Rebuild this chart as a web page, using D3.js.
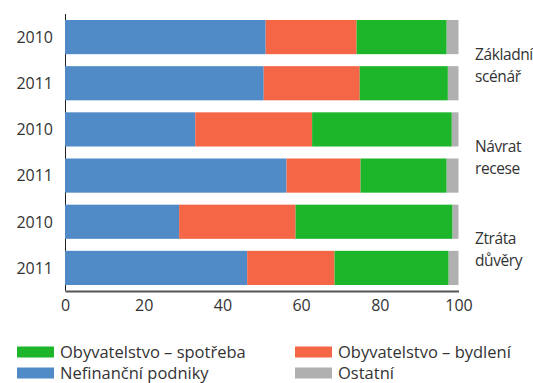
<!DOCTYPE html>
<html>
<head>
<meta charset="utf-8">
<script src="https://cdn.jsdelivr.net/npm/d3@7"></script>
<style>
  html, body { margin: 0; padding: 0; background: #fff; }
  svg { display: block; }
  text { font-family: "Open Sans", "Noto Sans", sans-serif; fill: #333; }
</style>
</head>
<body>
<svg id="chart" width="533" height="383"></svg>
<script>
// Row labels (top to bottom) and the scenario each pair of rows belongs to
const years = ["2010", "2011", "2010", "2011", "2010", "2011"];
const scenarios = [["Základní", "scénář"], ["Návrat", "recese"], ["Ztráta", "důvěry"]];

// Shares (%) per row
const nefinancni = [51.0, 50.5, 33.1, 56.3, 29.0, 46.3];
const bydleni    = [23.1, 24.4, 29.7, 18.8, 29.6, 22.2];
const spotreba   = [22.9, 22.4, 35.5, 21.9, 39.9, 29.0];
const ostatni    = [3.0, 2.7, 1.7, 3.0, 1.5, 2.5];

const xTicks = [0, 20, 40, 60, 80, 100];

const seriesKeys = ["nefinancni", "bydleni", "spotreba", "ostatni"];
const seriesNames = {
  nefinancni: "Nefinanční podniky",
  bydleni: "Obyvatelstvo – bydlení",
  spotreba: "Obyvatelstvo – spotřeba",
  ostatni: "Ostatní"
};
const colors = {
  nefinancni: "#518bc7",
  bydleni: "#f46645",
  spotreba: "#1db529",
  ostatni: "#b0b0b0"
};

const rows = years.map((y, i) => ({
  id: i, year: y,
  nefinancni: nefinancni[i], bydleni: bydleni[i],
  spotreba: spotreba[i], ostatni: ostatni[i]
}));

const svg = d3.select("#chart");
const plotLeft = 65, plotRight = 458.5, plotTop = 14, plotBottom = 291;

const x = d3.scaleLinear().domain([0, 100]).range([plotLeft, plotRight]);
const y = d3.scaleBand().domain(rows.map(d => d.id)).range([plotTop, plotBottom])
  .paddingInner(0.26).paddingOuter(0.13);

// Vertical axis line, visible in the gaps between bars
svg.append("line")
  .attr("x1", plotLeft + 0.5).attr("x2", plotLeft + 0.5)
  .attr("y1", plotTop).attr("y2", plotBottom)
  .attr("stroke", "#222").attr("stroke-width", 1);

const stacked = d3.stack().keys(seriesKeys)(rows);

svg.append("g").selectAll("g")
  .data(stacked).join("g")
  .attr("fill", s => colors[s.key])
  .selectAll("rect")
  .data(s => s).join("rect")
  .attr("x", d => x(d[0]))
  .attr("width", d => x(d[1]) - x(d[0]))
  .attr("y", d => y(d.data.id))
  .attr("height", y.bandwidth());

// Row labels
svg.append("g").selectAll("text")
  .data(rows).join("text")
  .attr("x", 53)
  .attr("y", d => y(d.id) + y.bandwidth() / 2)
  .attr("dy", "0.36em")
  .attr("text-anchor", "end")
  .style("font-size", "16px")
  .text(d => d.year);

// Bottom axis
const xAxis = d3.axisBottom(x).tickValues(xTicks).tickSize(0).tickPadding(9);
const gx = svg.append("g").attr("transform", `translate(0,${plotBottom})`).call(xAxis);
gx.select(".domain").attr("stroke", "#555").attr("stroke-width", 2);
gx.selectAll("text").style("font-size", "16px").attr("fill", "#333")
  .style("font-family", "'Open Sans', sans-serif");

// Scenario labels to the right of each pair of rows
scenarios.forEach((lines, k) => {
  const cy = (y(2 * k) + y(2 * k + 1) + y.bandwidth()) / 2 + 5;
  const t = svg.append("text").attr("x", 475).attr("y", cy - 11)
    .style("font-size", "15.5px").style("letter-spacing", "-0.4px");
  lines.forEach((ln, j) => {
    t.append("tspan").attr("x", 475).attr("dy", j === 0 ? "0.36em" : 22).text(ln);
  });
});

// Legend
const legendItems = [
  { key: "spotreba", x: 17, y: 352 },
  { key: "bydleni", x: 295, y: 352 },
  { key: "nefinancni", x: 17, y: 373 },
  { key: "ostatni", x: 295, y: 373 }
];
const lg = svg.append("g").selectAll("g").data(legendItems).join("g")
  .attr("transform", d => `translate(${d.x},${d.y})`);
lg.append("rect").attr("x", 0).attr("y", -5.5).attr("width", 37).attr("height", 11)
  .attr("fill", d => colors[d.key]);
lg.append("text").attr("x", 43).attr("y", 0).attr("dy", "0.36em")
  .style("font-size", "16.5px").text(d => seriesNames[d.key]);
</script>
</body>
</html>
